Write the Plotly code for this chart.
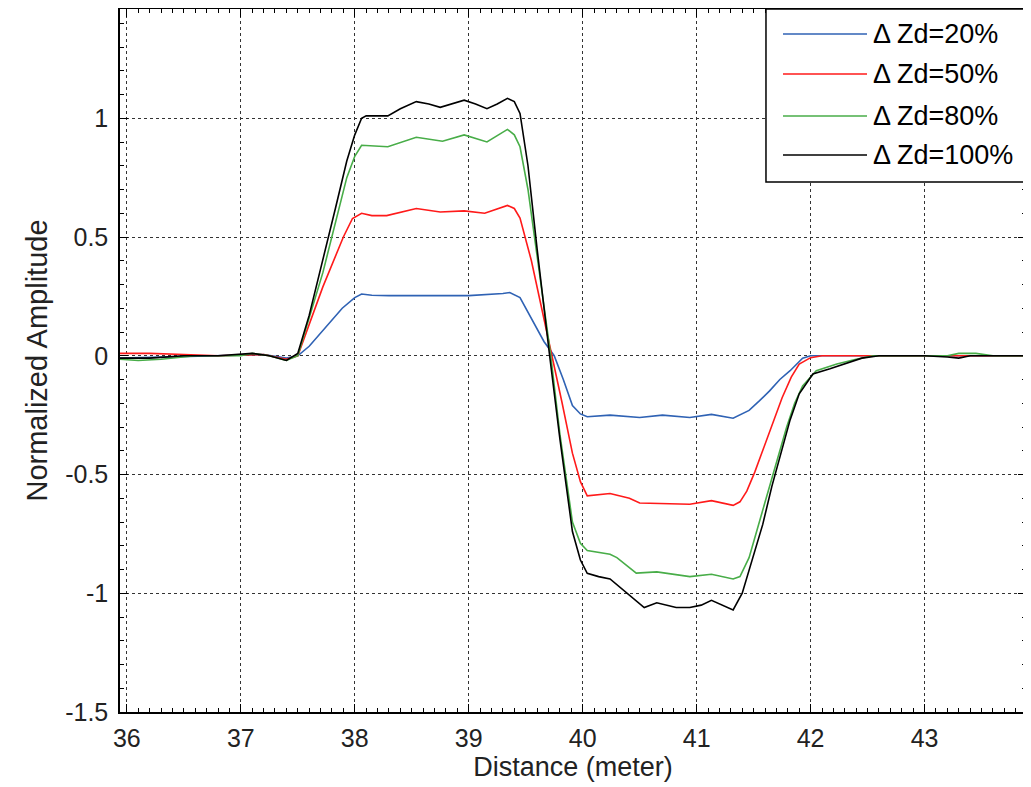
import plotly.graph_objects as go

# ---- data ----
names = ["Δ Zd=20%", "Δ Zd=50%", "Δ Zd=80%", "Δ Zd=100%"]
colors = ["#2f62b4", "#ff1a1a", "#48ad48", "#000000"]

x_20 = [35.94, 36.3, 36.8, 37.2, 37.4, 37.5, 37.6, 37.72, 37.89, 38.0, 38.06, 38.15, 38.3, 38.6, 39.0,
        39.3, 39.36, 39.45, 39.56, 39.66, 39.75, 39.83, 39.91, 39.98, 40.04, 40.24, 40.5, 40.7, 40.94,
        41.13, 41.32, 41.46, 41.55, 41.64, 41.73, 41.82, 41.93, 42.0, 42.5, 43.0, 43.3, 43.89]
y_20 = [-0.01, -0.005, 0.0, 0.005, -0.01, 0.0, 0.04, 0.105, 0.20, 0.245, 0.26, 0.255, 0.253, 0.253, 0.253,
        0.262, 0.266, 0.245, 0.15, 0.06, 0.0, -0.10, -0.21, -0.245, -0.257, -0.25, -0.26, -0.25, -0.26,
        -0.247, -0.263, -0.23, -0.19, -0.148, -0.10, -0.063, -0.01, 0.0, 0.0, 0.0, 0.0, 0.0]

x_50 = [35.94, 36.2, 36.5, 36.8, 37.2, 37.4, 37.5, 37.72, 37.9, 37.98, 38.06, 38.15, 38.28, 38.54, 38.75,
        38.96, 39.14, 39.34, 39.4, 39.45, 39.55, 39.65, 39.73, 39.82, 39.91, 39.98, 40.04, 40.24, 40.41,
        40.5, 40.94, 41.13, 41.32, 41.38, 41.44, 41.51, 41.58, 41.66, 41.75, 41.83, 41.9, 42.0, 42.1,
        42.6, 43.0, 43.89]
y_50 = [0.01, 0.01, 0.005, 0.0, 0.005, -0.015, 0.0, 0.29, 0.50, 0.578, 0.60, 0.59, 0.59, 0.62, 0.605,
        0.61, 0.60, 0.633, 0.62, 0.58, 0.40, 0.17, 0.0, -0.20, -0.41, -0.53, -0.59, -0.58, -0.60,
        -0.62, -0.625, -0.61, -0.63, -0.615, -0.57, -0.49, -0.40, -0.29, -0.177, -0.09, -0.035, -0.008, 0.0,
        0.0, 0.0, 0.0]

x_80 = [35.94, 36.1, 36.3, 36.6, 37.0, 37.1, 37.25, 37.4, 37.5, 37.72, 37.93, 38.0, 38.06, 38.29, 38.54,
        38.77, 38.96, 39.16, 39.34, 39.4, 39.45, 39.52, 39.6, 39.72, 39.8, 39.91, 39.98, 40.04, 40.24,
        40.3, 40.47, 40.65, 40.94, 41.13, 41.32, 41.38, 41.46, 41.55, 41.64, 41.72, 41.79, 41.86, 41.93,
        42.05, 42.23, 42.4, 42.55, 42.9, 43.2, 43.3, 43.45, 43.6, 43.89]
y_80 = [-0.015, -0.02, -0.015, 0.0, 0.0, 0.01, 0.0, -0.02, 0.0, 0.35, 0.75, 0.84, 0.886, 0.88, 0.92,
        0.903, 0.93, 0.90, 0.953, 0.93, 0.88, 0.70, 0.42, 0.0, -0.33, -0.70, -0.79, -0.82, -0.836,
        -0.85, -0.915, -0.91, -0.93, -0.92, -0.94, -0.93, -0.85, -0.70, -0.56, -0.42, -0.30, -0.20, -0.127,
        -0.063, -0.035, -0.015, 0.0, 0.0, 0.0, 0.01, 0.01, 0.0, 0.0]

x_100 = [35.94, 36.2, 36.5, 36.8, 37.1, 37.25, 37.4, 37.5, 37.6, 37.72, 37.83, 37.93, 38.0, 38.06, 38.1,
         38.29, 38.4, 38.54, 38.65, 38.75, 38.86, 38.96, 39.06, 39.16, 39.25, 39.34, 39.4, 39.45, 39.52,
         39.6, 39.71, 39.8, 39.91, 39.98, 40.04, 40.14, 40.24, 40.39, 40.54, 40.65, 40.82, 40.94, 41.04,
         41.13, 41.22, 41.32, 41.4, 41.49, 41.58, 41.66, 41.75, 41.82, 41.9, 42.02, 42.17, 42.32, 42.45,
         42.6, 42.8, 43.0, 43.2, 43.3, 43.4, 43.6, 43.89]
y_100 = [-0.01, -0.01, 0.0, 0.0, 0.01, 0.0, -0.02, 0.01, 0.17, 0.40, 0.62, 0.82, 0.93, 1.0, 1.01,
         1.01, 1.04, 1.07, 1.06, 1.046, 1.063, 1.076, 1.06, 1.04, 1.06, 1.084, 1.07, 1.02, 0.80,
         0.45, 0.0, -0.35, -0.74, -0.86, -0.916, -0.93, -0.94, -1.0, -1.06, -1.04, -1.06, -1.06, -1.05,
         -1.03, -1.05, -1.07, -1.0, -0.86, -0.71, -0.55, -0.39, -0.27, -0.16, -0.077, -0.055, -0.03, -0.01,
         0.0, 0.0, 0.0, -0.005, -0.01, 0.0, 0.0, 0.0]

x_ticks = [36, 37, 38, 39, 40, 41, 42, 43]
y_ticks = [-1.5, -1, -0.5, 0, 0.5, 1]
y_tick_labels = ["-1.5", "-1", "-0.5", "0", "0.5", "1"]

series = [(x_20, y_20), (x_50, y_50), (x_80, y_80), (x_100, y_100)]

fig = go.Figure()
for (xs, ys), name, col in zip(series, names, colors):
    fig.add_trace(go.Scatter(x=xs, y=ys, mode="lines", name=name,
                             line=dict(color=col, width=1.6), showlegend=False))

font_family = "Liberation Sans, Arial, sans-serif"
axis_common = dict(
    showline=True, linecolor="black", linewidth=1.5, mirror="allticks",
    ticks="inside", ticklen=8, tickcolor="black", tickwidth=1,
    showgrid=True, gridcolor="#333333", griddash="dot", gridwidth=1,
    zeroline=False, automargin=False,
    tickfont=dict(family=font_family, size=25, color="#222222"),
)

fig.update_xaxes(range=[35.94, 43.89], tickvals=x_ticks, ticklabelstandoff=3,
                 minor=dict(dtick=0.1, tick0=36, ticks="inside", ticklen=4, tickcolor="black", showgrid=False),
                 title=dict(text="Distance (meter)", font=dict(family=font_family, size=27, color="#222222"),
                            standoff=2),
                 **axis_common)
fig.update_yaxes(range=[-1.5, 1.46], tickvals=y_ticks, ticktext=y_tick_labels, ticklabelstandoff=5,
                 minor=dict(dtick=0.1, tick0=0, ticks="inside", ticklen=4, tickcolor="black", showgrid=False),
                 title=dict(text="Normalized Amplitude", font=dict(family=font_family, size=29, color="#222222"),
                            standoff=9),
                 **axis_common)

# ---- MATLAB-style legend box (top-right, flush with the axes corner) ----
shapes = [dict(type="rect", xref="paper", yref="paper", x0=0.713, x1=1.0, y0=0.754, y1=1.0,
               line=dict(color="black", width=1.5), fillcolor="white", layer="above")]
annotations = []
leg_y = [0.9644, 0.9075, 0.8478, 0.7923]
for name, col, yy in zip(names, colors, leg_y):
    shapes.append(dict(type="line", xref="paper", yref="paper", x0=0.7318, x1=0.8245, y0=yy, y1=yy,
                       line=dict(color=col, width=1.6), layer="above"))
    annotations.append(dict(xref="paper", yref="paper", x=0.829, y=yy, text=name, showarrow=False,
                            xanchor="left", yanchor="middle",
                            font=dict(family=font_family, size=27, color="black")))

# page body has an 8px margin, so the figure is sized to fit the 1031x787 window
fig.update_layout(
    width=1023, height=779,
    margin=dict(l=112, r=5, t=1, b=75),
    paper_bgcolor="white", plot_bgcolor="white",
    shapes=shapes, annotations=annotations,
    showlegend=False,
)

fig.write_html("out.html")
